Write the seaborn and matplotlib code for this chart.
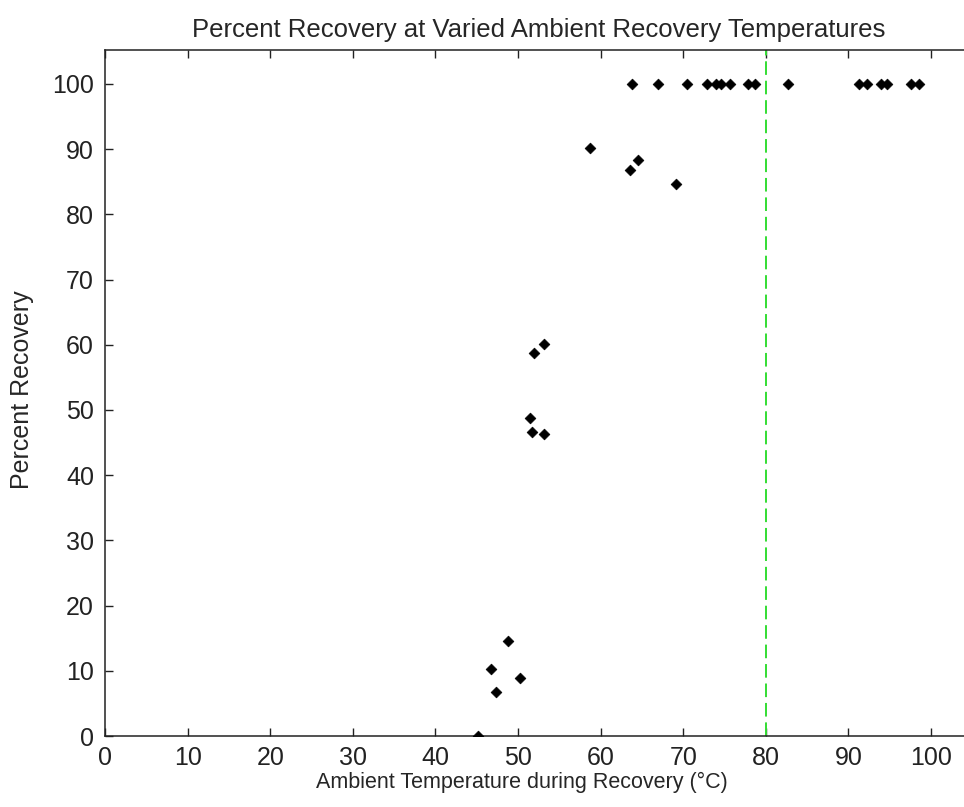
import matplotlib
matplotlib.use("Agg")
import matplotlib.pyplot as plt
import seaborn as sns
import pandas as pd

temps = [45.2, 46.7, 47.3, 48.75, 50.2,
         51.4, 51.7, 53.1, 51.9, 53.1,
         58.7, 63.5, 64.5, 69.1,
         63.8, 66.9, 70.5, 72.9, 74.0, 74.6, 75.7, 77.8, 78.7, 82.7,
         91.3, 92.2, 93.9, 94.7, 97.6, 98.6]
recovery = [0, 10.2, 6.8, 14.5, 8.9,
            48.8, 46.6, 46.3, 58.8, 60.1,
            90.2, 86.8, 88.4, 84.7,
            100, 100, 100, 100, 100, 100, 100, 100, 100, 100,
            100, 100, 100, 100, 100, 100]
threshold = 80
xticks = [0, 10, 20, 30, 40, 50, 60, 70, 80, 90, 100]
yticks = [0, 10, 20, 30, 40, 50, 60, 70, 80, 90, 100]

df = pd.DataFrame({"temp": temps, "rec": recovery})

sns.set_style("ticks")
plt.rcParams["font.family"] = ["Liberation Sans", "DejaVu Sans"]

fig = plt.figure(figsize=(9.64, 8.07), dpi=100)
ax = fig.add_axes([105/964, 71/807, (972.3-105)/964, (736-50)/807])

sns.scatterplot(data=df, x="temp", y="rec", marker="D", color="black",
                s=30, edgecolor="black", linewidth=0.5, ax=ax, zorder=3)
ax.axvline(threshold, color="#33dd33", linestyle=(0, (7, 3)), linewidth=1.4, zorder=2)

ax.set_xlim(0, 105)
ax.set_ylim(0, 105.2)
ax.set_xticks(xticks)
ax.set_yticks(yticks)
ax.tick_params(direction="in", length=6, width=1, top=True, right=True,
               labelsize=18, colors="#222222")
ax.tick_params(axis="x", pad=7)
ax.tick_params(axis="y", pad=8)
for sp in ax.spines.values():
    sp.set_linewidth(1.1)
    sp.set_color("#222222")
    sp.set_visible(True)

ax.set_xlabel("Ambient Temperature during Recovery (°C)", fontsize=15.5)
ax.xaxis.set_label_coords(0.481, -0.052)
ax.set_ylabel("Percent Recovery", fontsize=18)
ax.yaxis.set_label_coords(-0.082, 0.505)
ax.set_title("Percent Recovery at Varied Ambient Recovery Temperatures", fontsize=18.5, pad=9)

fig.savefig("out.png", dpi=100)
